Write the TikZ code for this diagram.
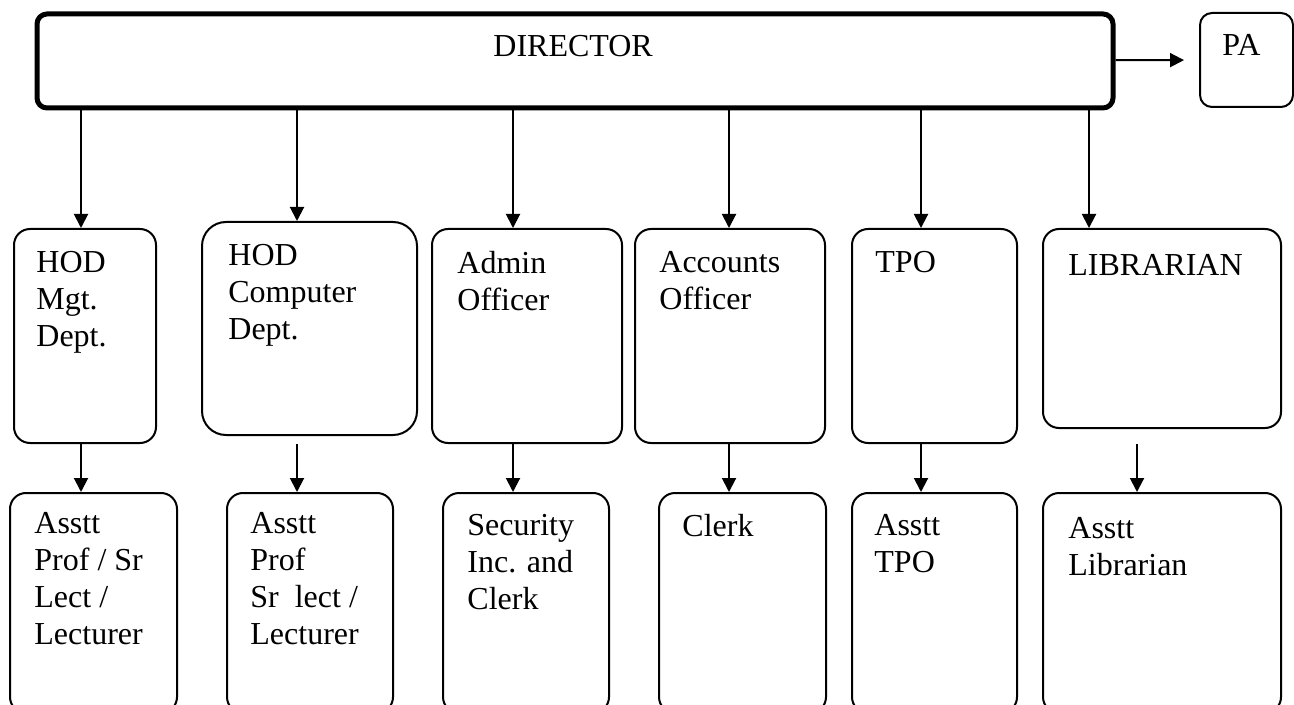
\documentclass[tikz,border=0pt]{standalone}
\usepackage{fontspec}
\setmainfont{Liberation Serif}
\usetikzlibrary{arrows.meta}

\begin{document}
\begin{tikzpicture}[
  x=0.5pt, y=-0.5pt,
  box/.style = {draw, line width=1pt, rounded corners=8pt,
    anchor=north west, inner sep=0pt},
  txt/.style = {anchor=north west, yshift=10.6pt, align=left, inner sep=0pt,
    font=\fontsize{16}{18.5}\selectfont},
  arr/.style = {-{Triangle[length=7pt,width=7pt]}, line width=1pt}
  ]
  \useasboundingbox (0,0) rectangle (1294,705);
  \clip (0,0) rectangle (1294,705);

  % top
  \node[box, line width=2.5pt, rounded corners=5pt,
    minimum width=538pt, minimum height=47pt] (dir) at (34.5,11.5) {};
  \node[box, rounded corners=6pt,
    minimum width=46.5pt, minimum height=47pt] (pa) at (1199,12) {};
  \node[txt] (tdir) at (493,56) {DIRECTOR};
  \node[txt] (tpa) at (1222,55) {PA};

  % middle row
  \node[box, minimum width=71pt, minimum height=107pt] (hodm) at (13,228) {};
  \node[box, rounded corners=12pt,
    minimum width=107.5pt, minimum height=106.5pt] (hodc) at (201,221) {};
  \node[box, minimum width=95pt, minimum height=107pt] (adm) at (431,228) {};
  \node[box, minimum width=95pt, minimum height=107pt] (acc) at (634,228) {};
  \node[box, minimum width=82.5pt, minimum height=107pt] (tpo) at (851,228) {};
  \node[box, minimum width=119pt, minimum height=99.5pt] (lib) at (1042,228) {};

  \node[txt] (thodm) at (36,272) {HOD\\Mgt.\\Dept.};
  \node[txt] (thodc) at (228,265) {HOD\\Computer\\Dept.};
  \node[txt] (tadm) at (457,272) {Admin\\Officer};
  \node[txt] (tacc) at (659,272) {Accounts\\Officer};
  \node[txt] (ttpo) at (875,272) {TPO};
  \node[txt] (tlib) at (1068,275) {LIBRARIAN};

  % bottom row
  \node[box, minimum width=83.5pt, minimum height=110pt] (asm) at (9,492) {};
  \node[box, minimum width=83pt, minimum height=110pt] (asc) at (226,492) {};
  \node[box, minimum width=83pt, minimum height=110pt] (sec) at (442,492) {};
  \node[box, minimum width=83.5pt, minimum height=110pt] (clk) at (658,492) {};
  \node[box, minimum width=82.5pt, minimum height=110pt] (atpo) at (851,492) {};
  \node[box, minimum width=119pt, minimum height=110pt] (alib) at (1042,492) {};

  \node[txt] (tasm) at (34,533) {Asstt\\Prof / Sr\\Lect /\\Lecturer};
  \node[txt] (tasc) at (250,533) {Asstt\\Prof\\Sr\ \ lect /\\Lecturer};
  \node[txt] (tsec) at (467,535) {Security\\Inc. and\\Clerk};
  \node[txt] (tclk) at (682,535) {Clerk};
  \node[txt] (tatpo) at (874,535) {Asstt\\TPO};
  \node[txt] (talib) at (1068,538) {Asstt\\Librarian};

  % connectors
  \draw[arr, shorten >=7.5pt] (dir) -- (pa);
  \foreach \x/\n in {81/hodm, 297/hodc, 513/adm, 729/acc, 921/tpo, 1089/lib}
    \draw[arr] (dir.south -| \x,0) -- (\n.north -| \x,0);
  \foreach \x/\n/\b/\s in {81/hodm/asm/0, 297/hodc/asc/4, 513/adm/sec/0,
      729/acc/clk/0, 921/tpo/atpo/0, 1137/lib/alib/7.5}
    \draw[arr, shorten <=\s pt] (\n.south -| \x,0) -- (\b.north -| \x,0);
\end{tikzpicture}
\end{document}
